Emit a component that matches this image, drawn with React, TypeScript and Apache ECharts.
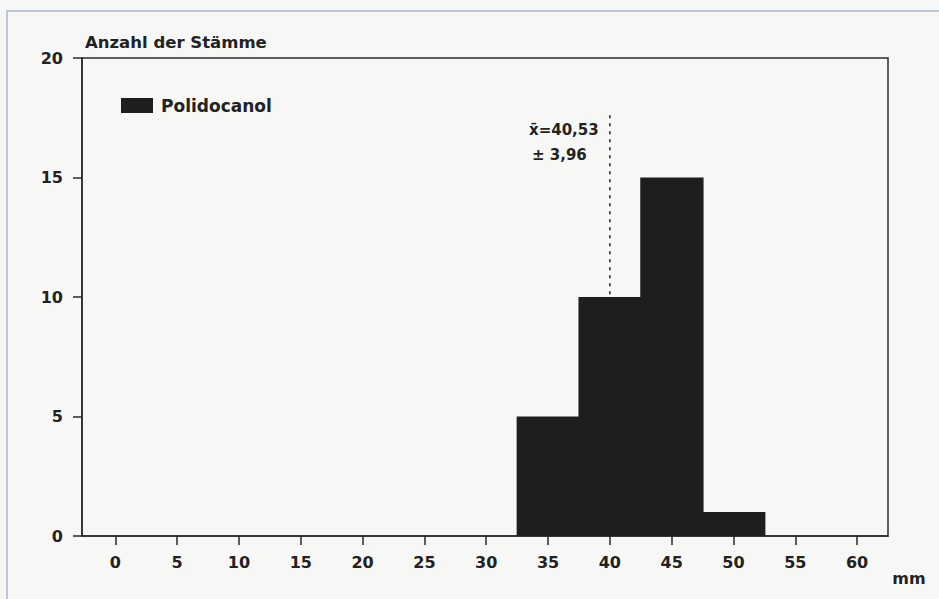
import React, { useEffect, useRef } from "react";
import * as echarts from "echarts";

// ---- data ----
const xTicks = [0, 5, 10, 15, 20, 25, 30, 35, 40, 45, 50, 55, 60];
const yTicks = [0, 5, 10, 15, 20];
const binStarts = [32.5, 37.5, 42.5, 47.5];
const binEnds = [37.5, 42.5, 47.5, 52.5];
const counts = [5, 10, 15, 1];
const meanLineX = 40; // dotted line as drawn
const meanLineTop = 17.6;
const seriesName = "Polidocanol";
const yTitle = "Anzahl der Stämme";
const xUnit = "mm";
const meanText = "x̄=40,53";
const sdText = "± 3,96";

const FONT = '"DejaVu Sans", "Liberation Sans", sans-serif';
const INK = "#222222";
const BAR = "#1e1e1e";

export default function App() {
  const ref = useRef<HTMLDivElement>(null);

  useEffect(() => {
    if (!ref.current) return;
    const chart = echarts.init(ref.current, undefined, { renderer: "svg" });

    const histData = binStarts.map((s, i) => [s, binEnds[i], counts[i]]);

    chart.setOption({
      animation: false,
      backgroundColor: "#f7f8f6",
      title: {
        text: yTitle,
        left: 80,
        top: 29,
        textStyle: { fontFamily: FONT, fontWeight: "bold", fontSize: 16.5, color: INK },
      },
      legend: {
        data: [seriesName],
        left: 116,
        top: 92,
        icon: "rect",
        itemWidth: 32,
        itemHeight: 15,
        textStyle: {
          fontFamily: FONT,
          fontWeight: "bold",
          fontSize: 17,
          color: INK,
          padding: [0, 0, 0, 3],
        },
      },
      grid: {
        left: 82,
        top: 58,
        right: 51,
        bottom: 63,
        show: true,
        borderColor: "#2a2a2a",
        borderWidth: 1.5,
        backgroundColor: "transparent",
      },
      xAxis: {
        type: "value",
        min: -2.7,
        max: 62.5,
        splitLine: { show: false },
        axisLine: { show: true, onZero: false, lineStyle: { color: "#2a2a2a", width: 1.5 } },
        axisTick: {
          show: true,
          length: 9,
          customValues: xTicks,
          lineStyle: { color: "#2a2a2a", width: 1.5 },
        },
        axisLabel: {
          customValues: xTicks,
          margin: 18,
          fontFamily: FONT,
          fontWeight: "bold",
          fontSize: 16,
          color: INK,
        },
      },
      yAxis: {
        type: "value",
        min: 0,
        max: 20,
        interval: 5,
        splitLine: { show: false },
        axisLine: { show: true, onZero: false, lineStyle: { color: "#2a2a2a", width: 1.5 } },
        axisTick: { show: true, length: 9, lineStyle: { color: "#2a2a2a", width: 1.5 } },
        axisLabel: {
          margin: 19,
          fontFamily: FONT,
          fontWeight: "bold",
          fontSize: 16,
          color: INK,
          formatter: (v: number) => (yTicks.includes(v) ? String(v) : ""),
        },
      },
      series: [
        {
          name: seriesName,
          type: "custom",
          itemStyle: { color: BAR },
          encode: { x: [0, 1], y: 2 },
          data: histData,
          renderItem: (params: any, api: any) => {
            const p0 = api.coord([api.value(0), api.value(2)]);
            const p1 = api.coord([api.value(1), 0]);
            return {
              type: "rect",
              shape: {
                x: p0[0] - 0.5,
                y: p0[1],
                width: p1[0] - p0[0] + 1.5,
                height: p1[1] - p0[1],
              },
              style: { fill: BAR },
            };
          },
          z: 2,
        },
        {
          name: "mean",
          type: "line",
          data: [
            [meanLineX, meanLineTop],
            [meanLineX, 0],
          ],
          symbol: "none",
          lineStyle: { color: "#2a2a2a", width: 1.6, type: [3, 5] },
          z: 1,
        },
      ],
      graphic: [
        {
          type: "rect",
          silent: true,
          z: -1,
          shape: { x: 7, y: 11, width: 1000, height: 1000 },
          style: { fill: "none", stroke: "#a9b8ca", lineWidth: 1.5 },
        },
        {
          type: "text",
          x: 529,
          y: 130,
          style: {
            text: meanText,
            font: `bold 15px ${FONT}`,
            fill: INK,
            verticalAlign: "middle",
          },
        },
        {
          type: "text",
          x: 532,
          y: 155,
          style: {
            text: sdText,
            font: `bold 15px ${FONT}`,
            fill: INK,
            verticalAlign: "middle",
          },
        },
        {
          type: "text",
          x: 909,
          y: 578,
          style: {
            text: xUnit,
            font: `bold 16px ${FONT}`,
            fill: INK,
            align: "center",
            verticalAlign: "middle",
          },
        },
      ],
    });

    return () => chart.dispose();
  }, []);

  return (
    <div
      ref={ref}
      style={{ position: "absolute", left: 0, top: 0, width: 939, height: 599 }}
    />
  );
}
